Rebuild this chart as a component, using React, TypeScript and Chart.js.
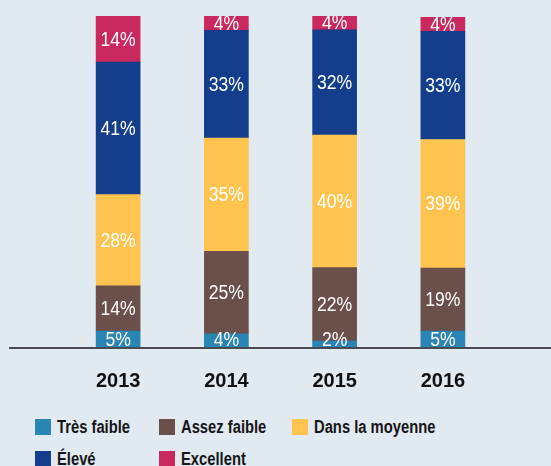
import React, { useEffect, useRef } from "react";
import { Chart, registerables } from "chart.js";

Chart.register(...registerables);

const categories = ["2013", "2014", "2015", "2016"];
const seriesNames = ["Très faible", "Assez faible", "Dans la moyenne", "Élevé", "Excellent"];
const seriesColors = ["#2a84b4", "#6a4f4a", "#fec44f", "#143e8c", "#c9295e"];

// segment heights (in %)
const tresFaible = [5.1, 4.3, 2.1, 5.1];
const assezFaible = [13.6, 24.8, 22.1, 19.0];
const dansLaMoyenne = [27.5, 34.1, 39.9, 38.7];
const eleve = [39.9, 32.5, 31.7, 32.6];
const excellent = [13.9, 4.2, 4.2, 4.2];

// printed labels
const tresFaibleLabels = ["5%", "4%", "2%", "5%"];
const assezFaibleLabels = ["14%", "25%", "22%", "19%"];
const dansLaMoyenneLabels = ["28%", "35%", "40%", "39%"];
const eleveLabels = ["41%", "33%", "32%", "33%"];
const excellentLabels = ["14%", "4%", "4%", "4%"];

const FONT = "'Liberation Sans', Arial, sans-serif";
const BG = "#e1e9f1";

const seriesValues = [tresFaible, assezFaible, dansLaMoyenne, eleve, excellent];
const seriesLabels = [tresFaibleLabels, assezFaibleLabels, dansLaMoyenneLabels, eleveLabels, excellentLabels];

const labelPlugin = {
  id: "segLabels",
  afterDatasetsDraw(chart: any) {
    const { ctx, chartArea } = chart;
    ctx.save();
    ctx.beginPath();
    ctx.rect(chartArea.left, chartArea.top, chartArea.right - chartArea.left, chartArea.bottom - chartArea.top);
    ctx.clip();
    ctx.fillStyle = "#ffffff";
    ctx.font = `20px ${FONT}`;
    ctx.textAlign = "center";
    ctx.textBaseline = "middle";
    chart.data.datasets.forEach((ds: any, di: number) => {
      const meta = chart.getDatasetMeta(di);
      meta.data.forEach((el: any, i: number) => {
        const p = el.getProps(["x", "y", "base"], true);
        const center = (p.y + p.base) / 2 + 1;
        const ty = Math.min(center, chartArea.bottom - 8);
        ctx.save();
        ctx.translate(p.x, ty);
        ctx.scale(0.88, 1);
        ctx.fillText(seriesLabels[di][i], 0, 0);
        ctx.restore();
      });
    });
    ctx.restore();
  },
};

const axisPlugin = {
  id: "axisLine",
  afterDatasetsDraw(chart: any) {
    const { ctx } = chart;
    const y0 = chart.scales.y.getPixelForValue(0);
    ctx.save();
    ctx.strokeStyle = "#484c52";
    ctx.lineWidth = 2;
    ctx.beginPath();
    ctx.moveTo(9, y0);
    ctx.lineTo(chart.width, y0);
    ctx.stroke();
    ctx.restore();
  },
};

export default function App() {
  const ref = useRef<HTMLCanvasElement>(null);

  useEffect(() => {
    if (!ref.current) return;
    const chart = new Chart(ref.current, {
      type: "bar",
      data: {
        labels: categories,
        datasets: seriesNames.map((name, i) => ({
          label: name,
          data: seriesValues[i],
          backgroundColor: seriesColors[i],
          borderWidth: 0,
          barThickness: 44,
        })),
      },
      options: {
        responsive: false,
        animation: false,
        layout: { padding: { top: 16, left: 64, right: 54, bottom: 0 } },
        plugins: { legend: { display: false }, tooltip: { enabled: false } },
        scales: {
          x: {
            stacked: true,
            grid: { display: false, drawTicks: false },
            border: { display: false },
            ticks: { color: "#111111", font: { family: FONT, size: 20, weight: "bold" }, padding: 21 },
          },
          y: { stacked: true, display: false, min: 0, max: 100 },
        },
      },
      plugins: [labelPlugin, axisPlugin],
    });
    return () => chart.destroy();
  }, []);

  const legendPos = [
    { x: 35, y: 419 },
    { x: 159, y: 419 },
    { x: 292, y: 419 },
    { x: 35, y: 451 },
    { x: 159, y: 451 },
  ];

  return (
    <div style={{ position: "absolute", left: 0, top: 0, width: 551, height: 466, background: BG, overflow: "hidden" }}>
      <canvas ref={ref} width={551} height={414} style={{ display: "block" }} />
      {seriesNames.map((name, i) => (
        <div key={name} style={{ position: "absolute", left: legendPos[i].x, top: legendPos[i].y, display: "flex", alignItems: "center", height: 16 }}>
          <div style={{ width: 16, height: 16, background: seriesColors[i], flex: "none" }} />
          <span style={{ marginLeft: 6, fontFamily: FONT, fontSize: 18, fontWeight: "bold", color: "#161616", whiteSpace: "nowrap", lineHeight: "16px", display: "inline-block", transform: "scaleX(0.82)", transformOrigin: "left center" }}>{name}</span>
        </div>
      ))}
    </div>
  );
}
